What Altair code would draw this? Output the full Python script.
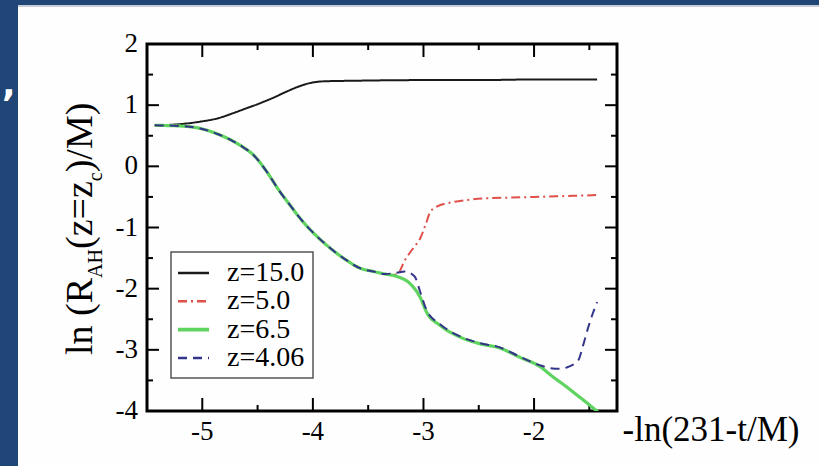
import altair as alt
import pandas as pd

# ---------------- data ----------------
series_names = ["z=15.0", "z=5.0", "z=6.5", "z=4.06"]
series_colors = ["#1a1a1a", "#e0504a", "#5fd35f", "#34348a"]
series_dashes = [[1, 0], [9, 4, 2, 4], [1, 0], [9, 6]]

x_z150 = [-5.43, -5.2, -5.02, -4.85, -4.72, -4.6, -4.48, -4.36, -4.24, -4.12,
          -4.03, -3.9, -3.6, -3.0, -2.5, -2.0, -1.43]
y_z150 = [0.67, 0.69, 0.73, 0.79, 0.87, 0.95, 1.03, 1.12, 1.22, 1.31,
          1.36, 1.39, 1.40, 1.41, 1.41, 1.42, 1.42]

# shared early path of the three lower runs
x_early = [-5.43, -5.2, -5.02, -4.85, -4.72, -4.62, -4.54, -4.42, -4.30, -4.20,
           -4.12, -4.0, -3.9, -3.8, -3.7, -3.58, -3.45, -3.35]
y_early = [0.67, 0.66, 0.62, 0.52, 0.41, 0.30, 0.19, -0.08, -0.41, -0.65,
           -0.84, -1.08, -1.25, -1.40, -1.53, -1.66, -1.72, -1.76]

x_z50_tail = [-3.24, -3.17, -3.09, -3.03, -2.98, -2.94, -2.88, -2.75, -2.6,
              -2.4, -2.2, -2.0, -1.8, -1.6, -1.43]
y_z50_tail = [-1.77, -1.54, -1.33, -1.18, -0.95, -0.75, -0.66, -0.59, -0.55,
              -0.52, -0.51, -0.50, -0.49, -0.48, -0.47]

x_z65_tail = [-3.24, -3.12, -3.03, -2.97, -2.85, -2.67, -2.49, -2.31, -2.13,
              -1.95, -1.83, -1.71, -1.59, -1.50, -1.42]
y_z65_tail = [-1.80, -1.92, -2.14, -2.39, -2.60, -2.79, -2.90, -2.97, -3.12,
              -3.27, -3.44, -3.60, -3.77, -3.90, -4.02]

x_z406_tail = [-3.24, -3.17, -3.08, -3.03, -2.97, -2.85, -2.67, -2.49, -2.31,
               -2.13, -1.95, -1.85, -1.77, -1.68, -1.60, -1.56, -1.51, -1.47, -1.43]
y_z406_tail = [-1.74, -1.72, -1.80, -2.05, -2.36, -2.58, -2.78, -2.89, -2.96,
               -3.11, -3.25, -3.30, -3.31, -3.27, -3.17, -2.95, -2.63, -2.41, -2.22]

x_major_ticks = [-5, -4, -3, -2]
x_minor_ticks = [-4.5, -3.5, -2.5, -1.5]
y_major_ticks = [-3, -2, -1, 0, 1]
y_minor_ticks = [-3.5, -2.5, -1.5, -0.5, 0.5, 1.5]
x_label_values = [-5, -4, -3, -2]
x_label_texts = ["-5", "-4", "-3", "-2"]
y_label_values = [-4, -3, -2, -1, 0, 1, 2]
y_label_texts = ["-4", "-3", "-2", "-1", "0", "1", "2"]

series_x = [x_z150, x_early + x_z50_tail, x_early + x_z65_tail, x_early + x_z406_tail]
series_y = [y_z150, y_early + y_z50_tail, y_early + y_z65_tail, y_early + y_z406_tail]
series_width = [2, 2, 3.2, 2]

# ---------------- layout ----------------
W, H = 470, 367
PL, PT = 147, 44
PR, PB = 819 - PL - W, 466 - PT - H
SERIF = "Liberation Serif"

xs = alt.Scale(domain=[-5.5, -1.25], nice=False, zero=False)
ys = alt.Scale(domain=[-4, 2], nice=False, zero=False)

xaxis = alt.Axis(values=x_label_values, ticks=False, domain=False, grid=False, labels=False,
                 title="-ln(231-t/M)", titleFont=SERIF, titleFontSize=35,
                 titleFontWeight="normal", titleColor="black",
                 titleX=W + 5, titleY=29, titleAlign="left", titleBaseline="alphabetic")
yaxis = alt.Axis(values=y_label_values, ticks=False, domain=False, grid=False, labels=False,
                 title=None)

cscale = alt.Scale(domain=series_names, range=series_colors)
dscale = alt.Scale(domain=series_names, range=series_dashes)

one = alt.Data(values=[{"a": 1}])
layers = []

# slide background strips (outside plot area)
layers.append(alt.Chart(one).mark_rect(color="#1f4677").encode(
    x=alt.value(-PL), x2=alt.value(18 - PL), y=alt.value(-PT), y2=alt.value(H + PB)))
layers.append(alt.Chart(one).mark_rect(color="#1f4677").encode(
    x=alt.value(-PL), x2=alt.value(W + PR), y=alt.value(-PT), y2=alt.value(5 - PT)))
layers.append(alt.Chart(one).mark_rect(color="#c8ccd4").encode(
    x=alt.value(18 - PL), x2=alt.value(W + PR), y=alt.value(5 - PT), y2=alt.value(7 - PT)))
layers.append(alt.Chart(one).mark_text(text=",", color="white", font="DejaVu Sans",
                                       fontWeight="bold", fontSize=36, align="left",
                                       baseline="alphabetic").encode(
    x=alt.value(2 - PL), y=alt.value(96 - PT)))

# inward ticks on all four sides
def xticks(vals, length):
    d = pd.DataFrame({"x": vals})
    bot = alt.Chart(d).mark_rule(color="black", strokeWidth=2).encode(
        x=alt.X("x:Q", scale=xs, axis=xaxis), y=alt.value(H), y2=alt.value(H - length))
    top = alt.Chart(d).mark_rule(color="black", strokeWidth=2).encode(
        x=alt.X("x:Q", scale=xs, axis=xaxis), y=alt.value(0), y2=alt.value(length))
    return [bot, top]

def yticks(vals, length):
    d = pd.DataFrame({"y": vals})
    left = alt.Chart(d).mark_rule(color="black", strokeWidth=2).encode(
        y=alt.Y("y:Q", scale=ys, axis=yaxis), x=alt.value(0), x2=alt.value(length))
    right = alt.Chart(d).mark_rule(color="black", strokeWidth=2).encode(
        y=alt.Y("y:Q", scale=ys, axis=yaxis), x=alt.value(W), x2=alt.value(W - length))
    return [left, right]

layers += xticks(x_major_ticks, 13) + xticks(x_minor_ticks, 6)
layers += yticks(y_major_ticks, 12) + yticks(y_minor_ticks, 6)

# tick labels (serif text placed through the scales)
xl = pd.DataFrame({"x": x_label_values, "t": x_label_texts})
layers.append(alt.Chart(xl).mark_text(font=SERIF, fontSize=27, color="black",
                                      align="center", baseline="alphabetic").encode(
    x=alt.X("x:Q", scale=xs, axis=xaxis), y=alt.value(H + 29), text="t:N"))
yl = pd.DataFrame({"y": y_label_values, "t": y_label_texts})
layers.append(alt.Chart(yl).mark_text(font=SERIF, fontSize=27, color="black",
                                      align="right", baseline="middle").encode(
    y=alt.Y("y:Q", scale=ys, axis=yaxis), x=alt.value(-9), text="t:N"))

# curves
for name, xv, yv, sw in zip(series_names, series_x, series_y, series_width):
    d = pd.DataFrame({"x": xv, "y": yv, "series": name, "i": range(len(xv))})
    layers.append(alt.Chart(d).mark_line(interpolate="monotone", clip=True, strokeWidth=sw).encode(
        x=alt.X("x:Q", scale=xs, axis=xaxis),
        y=alt.Y("y:Q", scale=ys, axis=yaxis),
        order="i:Q",
        color=alt.Color("series:N", scale=cscale, legend=None),
        strokeDash=alt.StrokeDash("series:N", scale=dscale, legend=None),
    ))

# legend box drawn by hand (serif labels)
LX0, LX1, LY0, LY1 = 24, 166, 208, 334
layers.append(alt.Chart(one).mark_rect(fill="white", stroke="#555555", strokeWidth=1.5).encode(
    x=alt.value(LX0), x2=alt.value(LX1), y=alt.value(LY0), y2=alt.value(LY1)))
for k, (name, sw) in enumerate(zip(series_names, series_width)):
    row_y = LY0 + 21 + 28.3 * k
    dd = alt.Data(values=[{"series": name}])
    layers.append(alt.Chart(dd).mark_rule(strokeWidth=sw + 0.5).encode(
        x=alt.value(LX0 + 7), x2=alt.value(LX0 + 38), y=alt.value(row_y),
        color=alt.Color("series:N", scale=cscale, legend=None),
        strokeDash=alt.StrokeDash("series:N", scale=dscale, legend=None)))
    layers.append(alt.Chart(dd).mark_text(font=SERIF, fontSize=28, color="black",
                                          align="left", baseline="middle").encode(
        x=alt.value(LX0 + 56), y=alt.value(row_y), text="series:N"))

# y-axis title with subscripts, rotated
title_parts = [("ln (R", 38, -55, 311), ("AH", 20, -45, 233.9), ("(z=z", 38, -55, 205),
               ("c", 20, -45, 137.2), (")/M)", 38, -55, 128.3)]
for txt, fs, px, py in title_parts:
    layers.append(alt.Chart(one).mark_text(text=txt, font=SERIF, fontSize=fs, color="black",
                                           angle=270, align="left", baseline="alphabetic").encode(
        x=alt.value(px), y=alt.value(py)))

chart = alt.layer(*layers).properties(
    width=W, height=H,
    padding={"left": PL, "top": PT, "right": PR, "bottom": PB},
    autosize=alt.AutoSizeParams(type="none"),
    background="#fefefe",
).configure_view(
    stroke="black", strokeWidth=3
)

chart.save("out.html", embed_options={"renderer": "svg", "actions": False})
